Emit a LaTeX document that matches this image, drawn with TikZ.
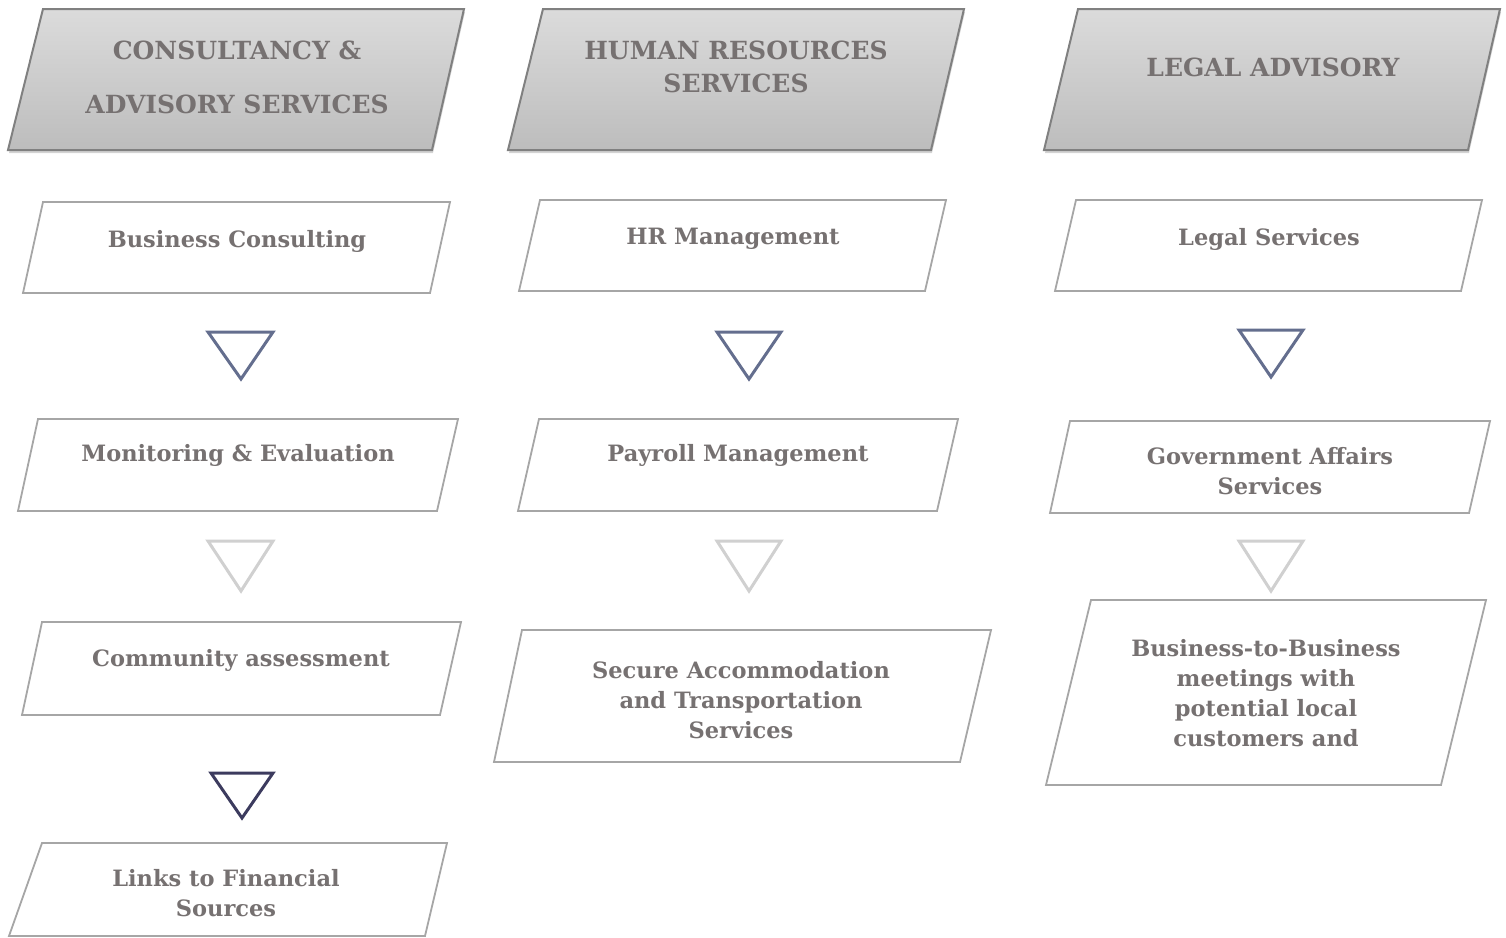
\documentclass[tikz,border=0pt]{standalone}
\usepackage{fontspec}
\setmainfont{DejaVu Serif}
\usetikzlibrary{shadows}
\definecolor{txtgray}{HTML}{767171}
\definecolor{linegray}{HTML}{A6A6A6}
\definecolor{headline}{HTML}{808080}
\definecolor{triblue}{HTML}{646E8E}
\definecolor{trilight}{HTML}{D0D0D0}
\definecolor{trinavy}{HTML}{3C3B5E}
\begin{document}
\begin{tikzpicture}[x=1pt, y=-1pt]
        \tikzset{header/.style={draw=headline, line width=2pt,
                                top color=black!14, bottom color=black!26,
                                drop shadow={shadow xshift=1pt, shadow yshift=-3pt, opacity=0.35}},
                 box/.style={draw=linegray, line width=1.8pt, fill=white},
                 headtext/.style={font=\bfseries\fontsize{25}{33}\selectfont,
                                  text=txtgray, align=center},
                 boxtext/.style={font=\bfseries\fontsize{22.5}{30}\selectfont,
                                 text=txtgray, align=center},
                 tri/.style={line width=3pt, line join=miter}}
        \useasboundingbox (0,0) rectangle (1506,937);

        % headers
        \draw[header] (43,9) -- (464,9) -- (432,150) -- (8,150) -- cycle;
        \draw[header] (543,9) -- (964,9) -- (931,150) -- (508,150) -- cycle;
        \draw[header] (1078,9) -- (1500,9) -- (1468,150) -- (1044,150) -- cycle;

        \node[headtext, font=\bfseries\fontsize{25}{54}\selectfont] (consult) at (237,77)
              {CONSULTANCY \&\\ADVISORY SERVICES};
        \node[headtext] (hr) at (736,67) {HUMAN RESOURCES\\SERVICES};
        \node[headtext] (legal) at (1273,67) {LEGAL ADVISORY};

        % first row
        \draw[box] (43,202) -- (450,202) -- (430,293) -- (23,293) -- cycle;
        \draw[box] (540,200) -- (946,200) -- (925,291) -- (519,291) -- cycle;
        \draw[box] (1076,200) -- (1482,200) -- (1461,291) -- (1055,291) -- cycle;

        \node[boxtext] (bizcons) at (237,241) {Business Consulting};
        \node[boxtext] (hrman) at (733,239) {HR Management};
        \node[boxtext] (legserv) at (1269,239) {Legal Services};

        \draw[tri, triblue] (208,332) -- (273,332) -- (241,379) -- cycle;
        \draw[tri, triblue] (717,332) -- (781,332) -- (749,379) -- cycle;
        \draw[tri, triblue] (1239,330) -- (1303,330) -- (1271,377) -- cycle;

        % second row
        \draw[box] (38,419) -- (458,419) -- (437,511) -- (18,511) -- cycle;
        \draw[box] (539,419) -- (958,419) -- (937,511) -- (518,511) -- cycle;
        \draw[box] (1070,421) -- (1490,421) -- (1469,513) -- (1050,513) -- cycle;

        \node[boxtext] (monit) at (238,455) {Monitoring \& Evaluation};
        \node[boxtext] (payroll) at (738,455) {Payroll Management};
        \node[boxtext] (gov) at (1270,471) {Government Affairs\\Services};

        \draw[tri, trilight] (208,541) -- (273,541) -- (241,591) -- cycle;
        \draw[tri, trilight] (717,541) -- (781,541) -- (749,591) -- cycle;
        \draw[tri, trilight] (1239,541) -- (1303,541) -- (1271,591) -- cycle;

        % third row
        \draw[box] (42,622) -- (461,622) -- (440,715) -- (22,715) -- cycle;
        \draw[box] (522,630) -- (991,630) -- (960,762) -- (494,762) -- cycle;
        \draw[box] (1091,600) -- (1486,600) -- (1441,785) -- (1046,785) -- cycle;

        \node[boxtext] (commun) at (241,660) {Community assessment};
        \node[boxtext] (secure) at (741,700)
              {Secure Accommodation\\and Transportation\\Services};
        \node[boxtext] (btob) at (1266,693)
              {Business-to-Business\\meetings with\\potential local\\customers and};

        \draw[tri, trinavy] (211,773) -- (273,773) -- (242,818) -- cycle;

        % fourth row
        \draw[box] (42,843) -- (447,843) -- (425,936) -- (9,936) -- cycle;
        \node[boxtext] (links) at (226,893) {Links to Financial\\Sources};
\end{tikzpicture}
\end{document}
